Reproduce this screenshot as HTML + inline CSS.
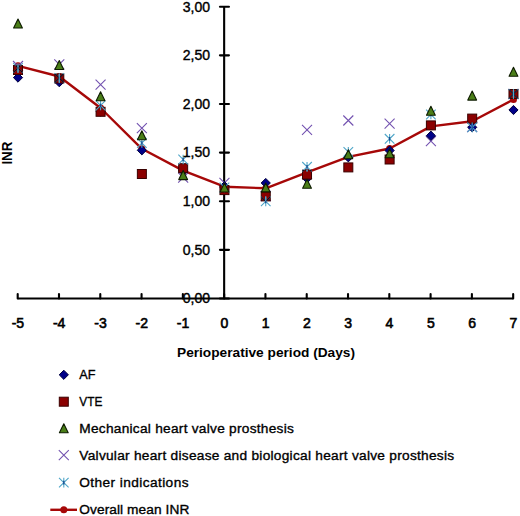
<!DOCTYPE html>
<html><head><meta charset="utf-8"><style>
html,body{margin:0;padding:0;background:#fff;}
body{width:520px;height:516px;overflow:hidden;}
svg{display:block;}
.t{font-family:"Liberation Sans",sans-serif;font-size:14px;fill:#000;stroke:#000;stroke-width:0.4px;}
.tb{font-family:"Liberation Sans",sans-serif;font-size:14px;fill:#000;stroke:#000;stroke-width:0.6px;}
.tt{font-family:"Liberation Sans",sans-serif;font-size:13px;font-weight:bold;fill:#000;}
.tl{font-family:"Liberation Sans",sans-serif;font-size:13.7px;fill:#000;stroke:#000;stroke-width:0.35px;}
</style></head><body>
<svg width="520" height="516" viewBox="0 0 520 516">
<defs><clipPath id="c0"><rect x="13.50" y="65.50" width="9" height="9"/></clipPath><clipPath id="c1"><rect x="54.79" y="74.00" width="9" height="9"/></clipPath><clipPath id="c6"><rect x="261.24" y="191.90" width="9" height="9"/></clipPath><clipPath id="c7"><rect x="302.53" y="170.10" width="9" height="9"/></clipPath><clipPath id="c12"><rect x="508.98" y="89.50" width="9" height="9"/></clipPath></defs>
<path d="M17.70 298.5H513.18" stroke="#000" stroke-width="2.1" fill="none"/>
<path d="M17.70 298.5V294.10" stroke="#000" stroke-width="2.1" fill="none" stroke-linecap="round"/>
<path d="M58.99 298.5V294.10" stroke="#000" stroke-width="2.1" fill="none" stroke-linecap="round"/>
<path d="M100.28 298.5V294.10" stroke="#000" stroke-width="2.1" fill="none" stroke-linecap="round"/>
<path d="M141.57 298.5V294.10" stroke="#000" stroke-width="2.1" fill="none" stroke-linecap="round"/>
<path d="M182.86 298.5V294.10" stroke="#000" stroke-width="2.1" fill="none" stroke-linecap="round"/>
<path d="M224.15 298.5V294.10" stroke="#000" stroke-width="2.1" fill="none" stroke-linecap="round"/>
<path d="M265.44 298.5V294.10" stroke="#000" stroke-width="2.1" fill="none" stroke-linecap="round"/>
<path d="M306.73 298.5V294.10" stroke="#000" stroke-width="2.1" fill="none" stroke-linecap="round"/>
<path d="M348.02 298.5V294.10" stroke="#000" stroke-width="2.1" fill="none" stroke-linecap="round"/>
<path d="M389.31 298.5V294.10" stroke="#000" stroke-width="2.1" fill="none" stroke-linecap="round"/>
<path d="M430.60 298.5V294.10" stroke="#000" stroke-width="2.1" fill="none" stroke-linecap="round"/>
<path d="M471.89 298.5V294.10" stroke="#000" stroke-width="2.1" fill="none" stroke-linecap="round"/>
<path d="M513.18 298.5V294.10" stroke="#000" stroke-width="2.1" fill="none" stroke-linecap="round"/>
<path d="M224.15 6.69V298.5" stroke="#000" stroke-width="2.1" fill="none"/>
<path d="M219.95 298.50H228.95" stroke="#000" stroke-width="2.1" fill="none" stroke-linecap="round"/>
<path d="M219.95 249.87H228.95" stroke="#000" stroke-width="2.1" fill="none" stroke-linecap="round"/>
<path d="M219.95 201.23H228.95" stroke="#000" stroke-width="2.1" fill="none" stroke-linecap="round"/>
<path d="M219.95 152.59H228.95" stroke="#000" stroke-width="2.1" fill="none" stroke-linecap="round"/>
<path d="M219.95 103.96H228.95" stroke="#000" stroke-width="2.1" fill="none" stroke-linecap="round"/>
<path d="M219.95 55.33H228.95" stroke="#000" stroke-width="2.1" fill="none" stroke-linecap="round"/>
<path d="M219.95 6.69H228.95" stroke="#000" stroke-width="2.1" fill="none" stroke-linecap="round"/>
<polyline points="18.00,65.80 59.29,76.50 100.58,108.00 141.87,148.80 183.16,170.60 224.45,186.70 265.74,188.30 307.03,172.30 348.32,156.90 389.61,148.50 430.90,126.40 472.19,121.30 513.48,99.50" fill="none" stroke="#a60808" stroke-width="2.4" stroke-linejoin="round"/>
<circle cx="18.00" cy="65.80" r="3.5" fill="#a60808"/>
<circle cx="59.29" cy="76.50" r="3.5" fill="#a60808"/>
<circle cx="100.58" cy="108.00" r="3.5" fill="#a60808"/>
<circle cx="141.87" cy="148.80" r="3.5" fill="#a60808"/>
<circle cx="183.16" cy="170.60" r="3.5" fill="#a60808"/>
<circle cx="224.45" cy="186.70" r="3.5" fill="#a60808"/>
<circle cx="265.74" cy="188.30" r="3.5" fill="#a60808"/>
<circle cx="307.03" cy="172.30" r="3.5" fill="#a60808"/>
<circle cx="348.32" cy="156.90" r="3.5" fill="#a60808"/>
<circle cx="389.61" cy="148.50" r="3.5" fill="#a60808"/>
<circle cx="430.90" cy="126.40" r="3.5" fill="#a60808"/>
<circle cx="472.19" cy="121.30" r="3.5" fill="#a60808"/>
<circle cx="513.48" cy="99.50" r="3.5" fill="#a60808"/>
<path d="M13.00 61.00L23.00 71.00M23.00 61.00L13.00 71.00" stroke="#7352b0" stroke-width="1.1" fill="none"/>
<path d="M54.29 59.30L64.29 69.30M64.29 59.30L54.29 69.30" stroke="#7352b0" stroke-width="1.1" fill="none"/>
<path d="M95.58 79.70L105.58 89.70M105.58 79.70L95.58 89.70" stroke="#7352b0" stroke-width="1.1" fill="none"/>
<path d="M136.87 123.20L146.87 133.20M146.87 123.20L136.87 133.20" stroke="#7352b0" stroke-width="1.1" fill="none"/>
<path d="M178.16 172.60L188.16 182.60M188.16 172.60L178.16 182.60" stroke="#7352b0" stroke-width="1.1" fill="none"/>
<path d="M219.45 177.90L229.45 187.90M229.45 177.90L219.45 187.90" stroke="#7352b0" stroke-width="1.1" fill="none"/>
<path d="M260.74 191.00L270.74 201.00M270.74 191.00L260.74 201.00" stroke="#7352b0" stroke-width="1.1" fill="none"/>
<path d="M302.03 124.80L312.03 134.80M312.03 124.80L302.03 134.80" stroke="#7352b0" stroke-width="1.1" fill="none"/>
<path d="M343.32 115.50L353.32 125.50M353.32 115.50L343.32 125.50" stroke="#7352b0" stroke-width="1.1" fill="none"/>
<path d="M384.61 118.70L394.61 128.70M394.61 118.70L384.61 128.70" stroke="#7352b0" stroke-width="1.1" fill="none"/>
<path d="M425.90 136.20L435.90 146.20M435.90 136.20L425.90 146.20" stroke="#7352b0" stroke-width="1.1" fill="none"/>
<path d="M467.19 122.00L477.19 132.00M477.19 122.00L467.19 132.00" stroke="#7352b0" stroke-width="1.1" fill="none"/>
<path d="M508.48 89.00L518.48 99.00M518.48 89.00L508.48 99.00" stroke="#7352b0" stroke-width="1.1" fill="none"/>
<path d="M18.00 73.00L22.60 77.60L18.00 82.20L13.40 77.60Z" fill="#000088" stroke="#000040" stroke-width="1"/>
<path d="M59.29 77.60L63.89 82.20L59.29 86.80L54.69 82.20Z" fill="#000088" stroke="#000040" stroke-width="1"/>
<path d="M100.58 106.90L105.18 111.50L100.58 116.10L95.98 111.50Z" fill="#000088" stroke="#000040" stroke-width="1"/>
<path d="M141.87 145.70L146.47 150.30L141.87 154.90L137.27 150.30Z" fill="#000088" stroke="#000040" stroke-width="1"/>
<path d="M183.16 166.40L187.76 171.00L183.16 175.60L178.56 171.00Z" fill="#000088" stroke="#000040" stroke-width="1"/>
<path d="M224.45 181.60L229.05 186.20L224.45 190.80L219.85 186.20Z" fill="#000088" stroke="#000040" stroke-width="1"/>
<path d="M265.74 178.40L270.34 183.00L265.74 187.60L261.14 183.00Z" fill="#000088" stroke="#000040" stroke-width="1"/>
<path d="M307.03 173.90L311.63 178.50L307.03 183.10L302.43 178.50Z" fill="#000088" stroke="#000040" stroke-width="1"/>
<path d="M348.32 152.70L352.92 157.30L348.32 161.90L343.72 157.30Z" fill="#000088" stroke="#000040" stroke-width="1"/>
<path d="M389.61 145.90L394.21 150.50L389.61 155.10L385.01 150.50Z" fill="#000088" stroke="#000040" stroke-width="1"/>
<path d="M430.90 131.10L435.50 135.70L430.90 140.30L426.30 135.70Z" fill="#000088" stroke="#000040" stroke-width="1"/>
<path d="M472.19 122.70L476.79 127.30L472.19 131.90L467.59 127.30Z" fill="#000088" stroke="#000040" stroke-width="1"/>
<path d="M513.48 105.40L518.08 110.00L513.48 114.60L508.88 110.00Z" fill="#000088" stroke="#000040" stroke-width="1"/>
<rect x="13.50" y="65.50" width="9.00" height="9.00" fill="#8b0000" stroke="#3a0000" stroke-width="1"/>
<rect x="54.79" y="74.00" width="9.00" height="9.00" fill="#8b0000" stroke="#3a0000" stroke-width="1"/>
<rect x="96.08" y="107.30" width="9.00" height="9.00" fill="#8b0000" stroke="#3a0000" stroke-width="1"/>
<rect x="137.37" y="169.50" width="9.00" height="9.00" fill="#8b0000" stroke="#3a0000" stroke-width="1"/>
<rect x="178.66" y="163.70" width="9.00" height="9.00" fill="#8b0000" stroke="#3a0000" stroke-width="1"/>
<rect x="219.95" y="185.60" width="9.00" height="9.00" fill="#8b0000" stroke="#3a0000" stroke-width="1"/>
<rect x="261.24" y="191.90" width="9.00" height="9.00" fill="#8b0000" stroke="#3a0000" stroke-width="1"/>
<rect x="302.53" y="170.10" width="9.00" height="9.00" fill="#8b0000" stroke="#3a0000" stroke-width="1"/>
<rect x="343.82" y="162.90" width="9.00" height="9.00" fill="#8b0000" stroke="#3a0000" stroke-width="1"/>
<rect x="385.11" y="155.00" width="9.00" height="9.00" fill="#8b0000" stroke="#3a0000" stroke-width="1"/>
<rect x="426.40" y="120.90" width="9.00" height="9.00" fill="#8b0000" stroke="#3a0000" stroke-width="1"/>
<rect x="467.69" y="114.10" width="9.00" height="9.00" fill="#8b0000" stroke="#3a0000" stroke-width="1"/>
<rect x="508.98" y="89.50" width="9.00" height="9.00" fill="#8b0000" stroke="#3a0000" stroke-width="1"/>
<path d="M13.20 63.20L22.80 72.80M22.80 63.20L13.20 72.80M18.00 63.20L18.00 72.80" stroke="#4fa6c8" stroke-width="1.1" fill="none"/><path d="M18.00 66.20L18.00 69.80" stroke="#1c4a90" stroke-width="1.3" fill="none"/>
<path d="M54.49 73.20L64.09 82.80M64.09 73.20L54.49 82.80M59.29 73.20L59.29 82.80" stroke="#4fa6c8" stroke-width="1.1" fill="none"/><path d="M59.29 76.20L59.29 79.80" stroke="#1c4a90" stroke-width="1.3" fill="none"/>
<path d="M95.78 100.70L105.38 110.30M105.38 100.70L95.78 110.30M100.58 100.70L100.58 110.30" stroke="#4fa6c8" stroke-width="1.1" fill="none"/><path d="M100.58 103.70L100.58 107.30" stroke="#1c4a90" stroke-width="1.3" fill="none"/>
<path d="M137.07 138.20L146.67 147.80M146.67 138.20L137.07 147.80M141.87 138.20L141.87 147.80" stroke="#4fa6c8" stroke-width="1.1" fill="none"/><path d="M141.87 141.20L141.87 144.80" stroke="#1c4a90" stroke-width="1.3" fill="none"/>
<path d="M178.36 154.70L187.96 164.30M187.96 154.70L178.36 164.30M183.16 154.70L183.16 164.30" stroke="#4fa6c8" stroke-width="1.1" fill="none"/><path d="M183.16 157.70L183.16 161.30" stroke="#1c4a90" stroke-width="1.3" fill="none"/>
<path d="M219.65 182.70L229.25 192.30M229.25 182.70L219.65 192.30M224.45 182.70L224.45 192.30" stroke="#4fa6c8" stroke-width="1.1" fill="none"/><path d="M224.45 185.70L224.45 189.30" stroke="#1c4a90" stroke-width="1.3" fill="none"/>
<path d="M260.94 196.60L270.54 206.20M270.54 196.60L260.94 206.20M265.74 196.60L265.74 206.20" stroke="#4fa6c8" stroke-width="1.1" fill="none"/><path d="M265.74 199.60L265.74 203.20" stroke="#1c4a90" stroke-width="1.3" fill="none"/>
<path d="M302.23 162.00L311.83 171.60M311.83 162.00L302.23 171.60M307.03 162.00L307.03 171.60" stroke="#4fa6c8" stroke-width="1.1" fill="none"/><path d="M307.03 165.00L307.03 168.60" stroke="#1c4a90" stroke-width="1.3" fill="none"/>
<path d="M343.52 147.10L353.12 156.70M353.12 147.10L343.52 156.70M348.32 147.10L348.32 156.70" stroke="#4fa6c8" stroke-width="1.1" fill="none"/><path d="M348.32 150.10L348.32 153.70" stroke="#1c4a90" stroke-width="1.3" fill="none"/>
<path d="M384.81 134.00L394.41 143.60M394.41 134.00L384.81 143.60M389.61 134.00L389.61 143.60" stroke="#4fa6c8" stroke-width="1.1" fill="none"/><path d="M389.61 137.00L389.61 140.60" stroke="#1c4a90" stroke-width="1.3" fill="none"/>
<path d="M426.10 109.70L435.70 119.30M435.70 109.70L426.10 119.30M430.90 109.70L430.90 119.30" stroke="#4fa6c8" stroke-width="1.1" fill="none"/><path d="M430.90 112.70L430.90 116.30" stroke="#1c4a90" stroke-width="1.3" fill="none"/>
<path d="M467.39 122.60L476.99 132.20M476.99 122.60L467.39 132.20M472.19 122.60L472.19 132.20" stroke="#4fa6c8" stroke-width="1.1" fill="none"/><path d="M472.19 125.60L472.19 129.20" stroke="#1c4a90" stroke-width="1.3" fill="none"/>
<path d="M508.68 89.20L518.28 98.80M518.28 89.20L508.68 98.80M513.48 89.20L513.48 98.80" stroke="#4fa6c8" stroke-width="1.1" fill="none"/><path d="M513.48 92.20L513.48 95.80" stroke="#1c4a90" stroke-width="1.3" fill="none"/>
<path clip-path="url(#c0)" d="M13.20 63.20L22.80 72.80M22.80 63.20L13.20 72.80" stroke="#1a0010" stroke-width="1.2" fill="none"/>
<path clip-path="url(#c0)" d="M18.00 63.20L18.00 72.80" stroke="#4aa8d0" stroke-width="1.2" fill="none"/>
<path clip-path="url(#c1)" d="M54.49 73.20L64.09 82.80M64.09 73.20L54.49 82.80" stroke="#1a0010" stroke-width="1.2" fill="none"/>
<path clip-path="url(#c1)" d="M59.29 73.20L59.29 82.80" stroke="#4aa8d0" stroke-width="1.2" fill="none"/>
<path clip-path="url(#c6)" d="M260.94 196.60L270.54 206.20M270.54 196.60L260.94 206.20" stroke="#1a0010" stroke-width="1.2" fill="none"/>
<path clip-path="url(#c6)" d="M265.74 196.60L265.74 206.20" stroke="#4aa8d0" stroke-width="1.2" fill="none"/>
<path clip-path="url(#c7)" d="M302.23 162.00L311.83 171.60M311.83 162.00L302.23 171.60" stroke="#1a0010" stroke-width="1.2" fill="none"/>
<path clip-path="url(#c7)" d="M307.03 162.00L307.03 171.60" stroke="#4aa8d0" stroke-width="1.2" fill="none"/>
<path clip-path="url(#c12)" d="M508.68 89.20L518.28 98.80M518.28 89.20L508.68 98.80" stroke="#1a0010" stroke-width="1.2" fill="none"/>
<path clip-path="url(#c12)" d="M513.48 89.20L513.48 98.80" stroke="#4aa8d0" stroke-width="1.2" fill="none"/>
<path d="M18.00 19.00L22.40 28.00L13.60 28.00Z" fill="#4a7e18" stroke="#0e1c00" stroke-width="1.1" stroke-linejoin="round"/>
<path d="M59.29 60.50L63.69 69.50L54.89 69.50Z" fill="#4a7e18" stroke="#0e1c00" stroke-width="1.1" stroke-linejoin="round"/>
<path d="M100.58 91.80L104.98 100.80L96.18 100.80Z" fill="#4a7e18" stroke="#0e1c00" stroke-width="1.1" stroke-linejoin="round"/>
<path d="M141.87 130.70L146.27 139.70L137.47 139.70Z" fill="#4a7e18" stroke="#0e1c00" stroke-width="1.1" stroke-linejoin="round"/>
<path d="M183.16 170.60L187.56 179.60L178.76 179.60Z" fill="#4a7e18" stroke="#0e1c00" stroke-width="1.1" stroke-linejoin="round"/>
<path d="M224.45 183.00L228.85 192.00L220.05 192.00Z" fill="#4a7e18" stroke="#0e1c00" stroke-width="1.1" stroke-linejoin="round"/>
<path d="M265.74 182.90L270.14 191.90L261.34 191.90Z" fill="#4a7e18" stroke="#0e1c00" stroke-width="1.1" stroke-linejoin="round"/>
<path d="M307.03 179.20L311.43 188.20L302.63 188.20Z" fill="#4a7e18" stroke="#0e1c00" stroke-width="1.1" stroke-linejoin="round"/>
<path d="M348.32 149.80L352.72 158.80L343.92 158.80Z" fill="#4a7e18" stroke="#0e1c00" stroke-width="1.1" stroke-linejoin="round"/>
<path d="M389.61 148.80L394.01 157.80L385.21 157.80Z" fill="#4a7e18" stroke="#0e1c00" stroke-width="1.1" stroke-linejoin="round"/>
<path d="M430.90 106.20L435.30 115.20L426.50 115.20Z" fill="#4a7e18" stroke="#0e1c00" stroke-width="1.1" stroke-linejoin="round"/>
<path d="M472.19 91.10L476.59 100.10L467.79 100.10Z" fill="#4a7e18" stroke="#0e1c00" stroke-width="1.1" stroke-linejoin="round"/>
<path d="M513.48 67.30L517.88 76.30L509.08 76.30Z" fill="#4a7e18" stroke="#0e1c00" stroke-width="1.1" stroke-linejoin="round"/>
<text x="210" y="303.30" text-anchor="end" class="t">0,00</text>
<text x="210" y="254.67" text-anchor="end" class="t">0,50</text>
<text x="210" y="206.03" text-anchor="end" class="t">1,00</text>
<text x="210" y="157.40" text-anchor="end" class="t">1,50</text>
<text x="210" y="108.76" text-anchor="end" class="t">2,00</text>
<text x="210" y="60.13" text-anchor="end" class="t">2,50</text>
<text x="210" y="11.49" text-anchor="end" class="t">3,00</text>
<text x="17.90" y="328.2" text-anchor="middle" class="tb">-5</text>
<text x="59.19" y="328.2" text-anchor="middle" class="tb">-4</text>
<text x="100.48" y="328.2" text-anchor="middle" class="tb">-3</text>
<text x="141.77" y="328.2" text-anchor="middle" class="tb">-2</text>
<text x="183.06" y="328.2" text-anchor="middle" class="tb">-1</text>
<text x="224.35" y="328.2" text-anchor="middle" class="tb">0</text>
<text x="265.64" y="328.2" text-anchor="middle" class="tb">1</text>
<text x="306.93" y="328.2" text-anchor="middle" class="tb">2</text>
<text x="348.22" y="328.2" text-anchor="middle" class="tb">3</text>
<text x="389.51" y="328.2" text-anchor="middle" class="tb">4</text>
<text x="430.80" y="328.2" text-anchor="middle" class="tb">5</text>
<text x="472.09" y="328.2" text-anchor="middle" class="tb">6</text>
<text x="513.38" y="328.2" text-anchor="middle" class="tb">7</text>
<text x="177" y="356.9" class="tt" textLength="178" lengthAdjust="spacingAndGlyphs">Perioperative period (Days)</text>
<text transform="translate(12.4 164.6) rotate(-90)" class="tt" style="font-size:14.5px" textLength="23" lengthAdjust="spacingAndGlyphs">INR</text>
<path d="M63.80 370.20L68.40 374.80L63.80 379.40L59.20 374.80Z" fill="#000088" stroke="#000040" stroke-width="1"/>
<text x="79.3" y="379.4" class="tl" textLength="16.2" lengthAdjust="spacingAndGlyphs">AF</text>
<rect x="59.30" y="397.20" width="9.00" height="9.00" fill="#8b0000" stroke="#3a0000" stroke-width="1"/>
<text x="79.3" y="406.3" class="tl" textLength="23.0" lengthAdjust="spacingAndGlyphs">VTE</text>
<path d="M63.80 423.80L68.20 432.80L59.40 432.80Z" fill="#4a7e18" stroke="#0e1c00" stroke-width="1.1" stroke-linejoin="round"/>
<text x="79.3" y="433.2" class="tl" textLength="214.5" lengthAdjust="spacing">Mechanical heart valve prosthesis</text>
<path d="M58.80 450.20L68.80 460.20M68.80 450.20L58.80 460.20" stroke="#7352b0" stroke-width="1.1" fill="none"/>
<text x="79.3" y="459.8" class="tl" textLength="374.8" lengthAdjust="spacing">Valvular heart disease and biological heart valve prosthesis</text>
<path d="M59.00 477.80L68.60 487.40M68.60 477.80L59.00 487.40M63.80 477.80L63.80 487.40" stroke="#4fa6c8" stroke-width="1.1" fill="none"/><path d="M63.80 480.80L63.80 484.40" stroke="#1c4a90" stroke-width="1.3" fill="none"/>
<text x="79.3" y="487.2" class="tl" textLength="109.2" lengthAdjust="spacing">Other indications</text>
<path d="M50.3 509.80H77" stroke="#a60808" stroke-width="2.4"/>
<circle cx="63.80" cy="509.80" r="3.5" fill="#a60808"/>
<text x="79.3" y="514.4" class="tl" textLength="110.0" lengthAdjust="spacing">Overall mean INR</text>
</svg>
</body></html>
